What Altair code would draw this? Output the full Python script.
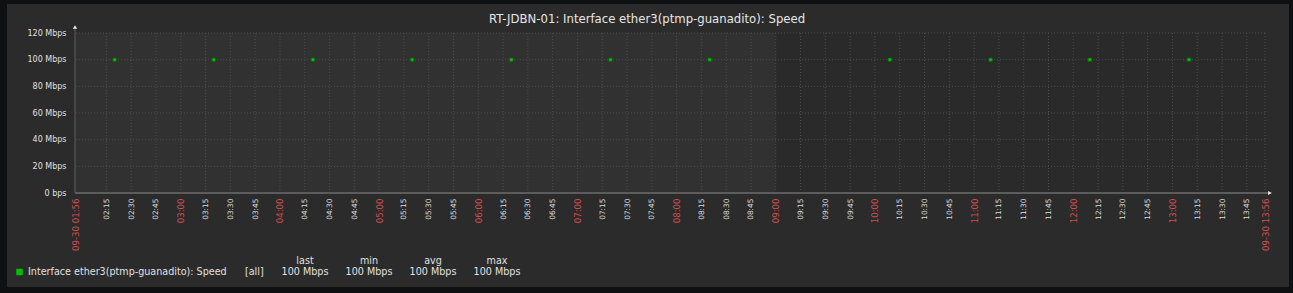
import altair as alt
import pandas as pd

# ---------------- data ----------------
chart_title = "RT-JDBN-01: Interface ether3(ptmp-guanadito): Speed"
series_name = "Interface ether3(ptmp-guanadito): Speed"
date_label = "09-30"
x_start = "01:56"
x_end = "13:56"
point_times = ["02:20", "03:20", "04:20", "05:20", "06:20", "07:20", "08:20",
               "10:09", "11:10", "12:10", "13:10"]
speed_mbps = [100, 100, 100, 100, 100, 100, 100, 100, 100, 100, 100]
y_ticks = [0, 20, 40, 60, 80, 100, 120]
band_starts = ["01:56", "09:00"]
band_ends = ["09:00", "13:56"]
band_colors = ["#313131", "#2a2a2a"]
legend_headers = ["last", "min", "avg", "max"]
legend_values = ["100 Mbps", "100 Mbps", "100 Mbps", "100 Mbps"]
legend_scope = "[all]"


def to_min(s):
    h, m = s.split(":")
    return int(h) * 60 + int(m)


t0, t1 = to_min(x_start), to_min(x_end)
x_ticks = [t0] + list(range(135, t1, 15)) + [t1]

W, H = 1190, 160
FONT = "DejaVu Sans"
GRID = "#4c4c4c"
LEG_FS = 9.6

xscale = alt.Scale(domain=[t0, t1], nice=False, zero=False)
yscale = alt.Scale(domain=[0, 120], nice=False)

one = pd.DataFrame({"k": [0]})

is_major = f"datum.value % 60 == 0 || datum.value == {t0} || datum.value == {t1}"
x_axis = alt.Axis(
    values=x_ticks, title=None, grid=False, ticks=False, domain=False,
    labelAngle=270, labelPadding=5, labelOverlap=False, labelFlush=False,
    labelBound=False, labelLimit=0, labelFont=FONT, zindex=1,
    labelExpr=(f"(datum.value == {t0} || datum.value == {t1} ? '{date_label} ' : '')"
               " + format(floor(datum.value/60), '02d') + ':' + format(datum.value % 60, '02d')"),
    labelColor={"condition": {"test": is_major, "value": "#d24e4e"}, "value": "#dddddd"},
    labelFontSize={"condition": {"test": is_major, "value": 8.6}, "value": 7.4},
)
y_axis = alt.Axis(
    values=y_ticks, title=None, grid=False, ticks=False, domain=False,
    labelPadding=9, labelFont=FONT, labelFontSize=8, labelColor="#e0e0e0", zindex=1,
    labelExpr="datum.value == 0 ? '0 bps' : datum.value + ' Mbps'",
)

# panel
panel = alt.Chart(one).mark_rect(color="#2b2b2b").encode(
    x=alt.value(-68), x2=alt.value(1214), y=alt.value(-29), y2=alt.value(254))

# bands
bands_df = pd.DataFrame({"s": [to_min(v) for v in band_starts],
                         "e": [to_min(v) for v in band_ends],
                         "c": band_colors})
bands = alt.Chart(bands_df).mark_rect().encode(
    x=alt.X("s:Q", scale=xscale, axis=x_axis), x2="e:Q",
    y=alt.value(0), y2=alt.value(H),
    color=alt.Color("c:N", scale=None))

# grids
vgrid = alt.Chart(pd.DataFrame({"t": x_ticks[1:]})).mark_rule(
    color=GRID, strokeDash=[1, 2], strokeWidth=1).encode(
    x=alt.X("t:Q", scale=xscale, axis=x_axis))
hgrid = alt.Chart(pd.DataFrame({"v": y_ticks[1:]})).mark_rule(
    color=GRID, strokeDash=[1, 2], strokeWidth=1).encode(
    y=alt.Y("v:Q", scale=yscale, axis=y_axis))

# axis lines
axis_col = "#5c5c5c"
yline = alt.Chart(one).mark_rule(color=axis_col, strokeWidth=1).encode(
    x=alt.value(0), y=alt.value(-4), y2=alt.value(H))
xline = alt.Chart(one).mark_rule(color=axis_col, strokeWidth=2).encode(
    x=alt.value(0), x2=alt.value(W + 3), y=alt.value(H))
arrow_up = alt.Chart(one).mark_point(shape="triangle-up", filled=True, size=18,
                                     color="#f0f0f0", opacity=1).encode(
    x=alt.value(0), y=alt.value(-6))
arrow_right = alt.Chart(one).mark_point(shape="triangle-right", filled=True, size=18,
                                        color="#f0f0f0", opacity=1).encode(
    x=alt.value(W + 5), y=alt.value(H))

# points
pts_df = pd.DataFrame({"t": [to_min(v) for v in point_times], "v": speed_mbps})
points = alt.Chart(pts_df).mark_square(size=10, color="#00c800", opacity=1,
                                       stroke="#007a00", strokeWidth=0.6).encode(
    x=alt.X("t:Q", scale=xscale, axis=x_axis),
    y=alt.Y("v:Q", scale=yscale, axis=y_axis))

# title
title = alt.Chart(one).mark_text(text=chart_title, font=FONT, fontSize=11.7,
                                 color="#e6e6e6", align="center", baseline="middle").encode(
    x=alt.value(572), y=alt.value(-14))

# legend
leg_y = 272 - 33
legend_layers = [
    alt.Chart(one).mark_square(size=42, color="#00c000", opacity=1).encode(
        x=alt.value(19.5 - 75), y=alt.value(leg_y)),
    alt.Chart(one).mark_text(text=series_name, font=FONT, fontSize=LEG_FS, color="#e0e0e0",
                             align="left", baseline="middle").encode(
        x=alt.value(28 - 75), y=alt.value(leg_y)),
    alt.Chart(one).mark_text(text=legend_scope, font=FONT, fontSize=LEG_FS, color="#e0e0e0",
                             align="left", baseline="middle").encode(
        x=alt.value(245 - 75), y=alt.value(leg_y)),
]
col_x = [305, 369, 433, 497]
for cx, hdr, val in zip(col_x, legend_headers, legend_values):
    legend_layers.append(alt.Chart(one).mark_text(
        text=hdr, font=FONT, fontSize=LEG_FS, color="#e0e0e0", align="center",
        baseline="middle").encode(x=alt.value(cx - 75), y=alt.value(261 - 33)))
    legend_layers.append(alt.Chart(one).mark_text(
        text=val, font=FONT, fontSize=LEG_FS, color="#e0e0e0", align="center",
        baseline="middle").encode(x=alt.value(cx - 75), y=alt.value(leg_y)))

chart = alt.layer(
    panel, bands, vgrid, hgrid, yline, xline, arrow_up, arrow_right, points, title,
    *legend_layers
).properties(
    width=W, height=H,
    autosize=alt.AutoSizeParams(type="none"),
    padding={"left": 75, "top": 33, "right": 28, "bottom": 100},
    background="#0f1012",
).configure_view(stroke=None)

chart.save("out.html", embed_options={"renderer": "svg", "actions": False})
